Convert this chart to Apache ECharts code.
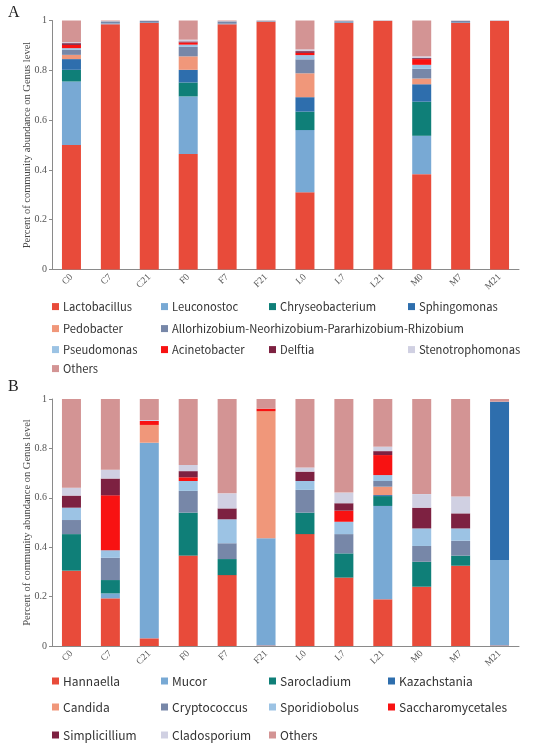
<!DOCTYPE html>
<html><head><meta charset="utf-8">
<script src="https://cdn.jsdelivr.net/npm/echarts@6/dist/echarts.min.js"></script>
<style>html,body{margin:0;padding:0;background:#fff;}#c{width:550px;height:749px;}</style>
</head><body><div id="c"></div>
<script>
// ---------- data ----------
const categories = ['C0','C7','C21','F0','F7','F21','L0','L7','L21','M0','M7','M21'];
const yTicks = [0, 0.2, 0.4, 0.6, 0.8, 1];

// Panel A (bacteria)
const bactNames = ['Lactobacillus','Leuconostoc','Chryseobacterium','Sphingomonas','Pedobacter',
  'Allorhizobium-Neorhizobium-Pararhizobium-Rhizobium','Pseudomonas','Acinetobacter','Delftia','Stenotrophomonas','Others'];
const lactobacillus    = [0.500,0.985,0.990,0.464,0.985,0.995,0.310,0.990,0.998,0.383,0.990,0.998];
const leuconostoc      = [0.255,0.003,0.001,0.231,0.002,0.001,0.250,0.001,0,0.154,0.001,0];
const chryseobacterium = [0.047,0,0,0.056,0,0,0.074,0,0,0.137,0,0];
const sphingomonas     = [0.043,0,0,0.051,0,0,0.058,0,0,0.070,0,0];
const pedobacter       = [0.017,0,0,0.054,0,0,0.096,0,0,0.023,0,0];
const allorhizobium    = [0.020,0.008,0.007,0.038,0.009,0.003,0.056,0.006,0.001,0.039,0.007,0.001];
const pseudomonas      = [0.007,0.001,0.001,0.009,0.001,0,0.017,0.001,0,0.016,0.001,0];
const acinetobacter    = [0.013,0,0,0.009,0,0,0.009,0,0,0.023,0,0];
const delftia          = [0.007,0,0,0.004,0,0,0.007,0,0,0.004,0,0];
const stenotrophomonas = [0.004,0,0,0.007,0,0,0.007,0,0,0.007,0,0];
const othersA          = [0.087,0.003,0.001,0.078,0.003,0.001,0.116,0.002,0.001,0.144,0.001,0.001];

// Panel B (fungi)
const fungNames = ['Hannaella','Mucor','Sarocladium','Kazachstania','Candida','Cryptococcus',
  'Sporidiobolus','Saccharomycetales','Simplicillium','Cladosporium','Others '];
const hannaella        = [0.305,0.193,0.031,0.366,0.287,0.002,0.453,0.277,0.189,0.240,0.325,0.002];
const mucor            = [0,0.020,0.792,0,0,0.434,0,0,0.378,0,0,0.346];
const sarocladium      = [0.148,0.054,0,0.174,0.065,0,0.087,0.098,0.040,0.101,0.041,0];
const kazachstania     = [0,0,0,0,0,0,0,0,0.004,0,0,0.641];
const candida          = [0,0,0.072,0,0,0.515,0,0,0.034,0,0,0];
const cryptococcus     = [0.057,0.090,0,0.088,0.064,0,0.092,0.078,0.023,0.064,0.060,0];
const sporidiobolus    = [0.050,0.031,0,0.040,0.097,0,0.036,0.050,0.024,0.071,0.050,0];
const saccharomycetales= [0,0.222,0.016,0.015,0,0.010,0,0.045,0.081,0,0,0];
const simplicillium    = [0.049,0.068,0,0.025,0.044,0,0.038,0.030,0.016,0.084,0.061,0];
const cladosporium     = [0.032,0.036,0.004,0.025,0.061,0,0.017,0.043,0.018,0.055,0.068,0];
const othersB          = [0.359,0.286,0.085,0.267,0.382,0.039,0.277,0.379,0.193,0.385,0.395,0.011];

// ---------- styling ----------
const palette = ['#e84b3a','#78a9d4','#0f7f78','#2e6ead','#f0977a','#7787a8','#9cc3e4','#f81212','#7d2141','#d0d0e2','#d39494'];
const bactData = [lactobacillus,leuconostoc,chryseobacterium,sphingomonas,pedobacter,allorhizobium,pseudomonas,acinetobacter,delftia,stenotrophomonas,othersA];
const fungData = [hannaella,mucor,sarocladium,kazachstania,candida,cryptococcus,sporidiobolus,saccharomycetales,simplicillium,cladosporium,othersB];

const serif = '"Liberation Serif","DejaVu Serif",serif';
const sans = '"Noto Sans CJK KR","Noto Sans",sans-serif';

function xAxis(gi){
  return {type:'category', gridIndex:gi, data:categories,
    axisLine:{lineStyle:{color:'#8a8a8a'}},
    axisTick:{alignWithLabel:true, length:3, lineStyle:{color:'#8a8a8a'}},
    axisLabel:{rotate:45, fontFamily:serif, fontSize:9.5, color:'#555', margin:6}};
}
function yAxis(gi){
  return {type:'value', gridIndex:gi, min:yTicks[0], max:yTicks[yTicks.length-1], interval:0.2,
    name:'Percent of community abundance on Genus level', nameLocation:'middle', nameGap:19,
    nameMoveOverlap:false,
    nameTextStyle:{fontFamily:serif, fontSize:10.5, color:'#444'},
    splitLine:{show:false},
    axisLine:{show:true, lineStyle:{color:'#8a8a8a'}},
    axisTick:{show:true, length:3, lineStyle:{color:'#8a8a8a'}},
    axisLabel:{fontFamily:serif, fontSize:10, color:'#555', margin:5}};
}

const series = [];
bactNames.forEach((n,i)=>series.push({name:n, type:'bar', stack:'a', xAxisIndex:0, yAxisIndex:0,
  barWidth:19, data:bactData[i], itemStyle:{color:palette[i]}}));
fungNames.forEach((n,i)=>series.push({name:n, type:'bar', stack:'b', xAxisIndex:1, yAxisIndex:1,
  barWidth:19, data:fungData[i], itemStyle:{color:palette[i]}}));

// legend layout (positions only)
const legA = [[52,301],[161,301],[269,301],[408,301],
              [52,323],[161,323],
              [52,344],[161,344],[269,344],[408,344],
              [52,363]];
const legB = [[52,675],[161,675],[269,675],[388,675],
              [52,701],[161,701],[269,701],[388,701],
              [52,729],[161,729],[269,729]];
const legends = [];
bactNames.forEach((n,i)=>legends.push({data:[{name:n, icon:'rect'}], left:legA[i][0], top:legA[i][1],
  padding:0, itemWidth:7, itemHeight:7, itemGap:0, selectedMode:false,
  textStyle:{fontFamily:sans, fontSize:11.2, color:'#333', padding:[0,0,0,-1]}}));
fungNames.forEach((n,i)=>legends.push({data:[{name:n, icon:'rect'}], left:legB[i][0], top:legB[i][1],
  padding:0, itemWidth:7, itemHeight:7, itemGap:0, selectedMode:false,
  textStyle:{fontFamily:sans, fontSize:12, color:'#333', padding:[0,0,0,-1]}}));

const chart = echarts.init(document.getElementById('c'), null, {renderer:'canvas'});
chart.setOption({
  animation:false,
  backgroundColor:'#fff',
  grid:[{left:52, top:20.5, width:467, height:249},
        {left:52, top:399, width:467, height:247}],
  xAxis:[xAxis(0), xAxis(1)],
  yAxis:[yAxis(0), yAxis(1)],
  legend:legends,
  series:series,
  graphic:[
    {type:'text', left:8, top:5, style:{text:'A', font:'16px '+serif, fill:'#222'}},
    {type:'text', left:8, top:379, style:{text:'B', font:'16px '+serif, fill:'#222'}}
  ]
});
</script></body></html>
